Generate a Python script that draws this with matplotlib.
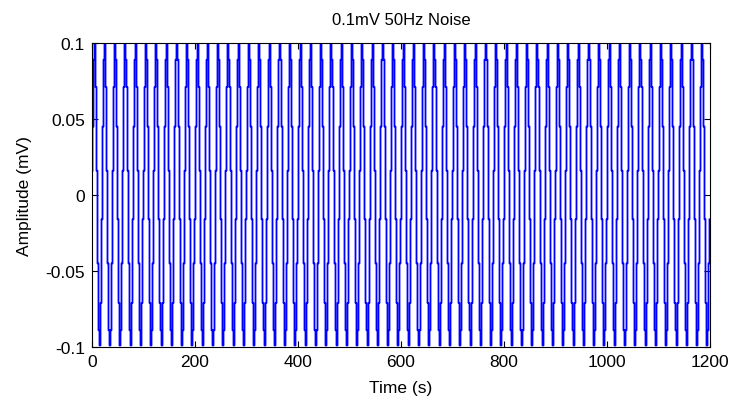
import numpy as np
import matplotlib.pyplot as plt

# 50 Hz noise sampled at 1 kHz: one period (20 samples) read off the chart,
# repeated over the 1200-sample record
period_mv = [0.016, 0.045, 0.071, 0.089, 0.099, 0.099, 0.089, 0.071, 0.045, 0.016,
             -0.016, -0.045, -0.071, -0.089, -0.099, -0.099, -0.089, -0.071, -0.045, -0.016]
n_periods = 60
time_s = np.arange(len(period_mv) * n_periods)
amplitude_mv = np.tile(period_mv, n_periods)

x_ticks = [0, 200, 400, 600, 800, 1000, 1200]
y_ticks = [-0.1, -0.05, 0, 0.05, 0.1]
y_tick_labels = ['-0.1', '-0.05', '0', '0.05', '0.1']

plt.rcParams['font.family'] = ['Liberation Sans', 'DejaVu Sans']

fig = plt.figure(figsize=(7.32, 4.06), dpi=100)
ax = fig.add_axes([92 / 732, 58 / 406, 618 / 732, 304 / 406])
ax.set_xlim(0, 1200)
ax.set_ylim(-0.1, 0.1)

# the original renderer puts every sample on a whole pixel column, which
# gives the stepped look; do the same through the axes transform
pts = ax.transData.transform(np.column_stack([time_s, amplitude_mv]))
pts[:, 0] = np.floor(pts[:, 0]) + 0.5
snapped = ax.transData.inverted().transform(pts)
ax.plot(snapped[:, 0], snapped[:, 1], color='#0000ff', linewidth=1.3,
        drawstyle='steps-post')

ax.set_xticks(x_ticks)
ax.set_yticks(y_ticks)
ax.set_yticklabels(y_tick_labels)
ax.tick_params(direction='in', top=True, right=True, labelsize=12.5, length=4, pad=5)
for spine in ax.spines.values():
    spine.set_linewidth(0.8)

ax.set_title('0.1mV 50Hz Noise', fontsize=12, pad=14)
ax.set_xlabel('Time (s)', fontsize=12.5, labelpad=8)
ax.set_ylabel('Amplitude (mV)', fontsize=12.5, labelpad=10)

fig.savefig('out.png', dpi=100)
